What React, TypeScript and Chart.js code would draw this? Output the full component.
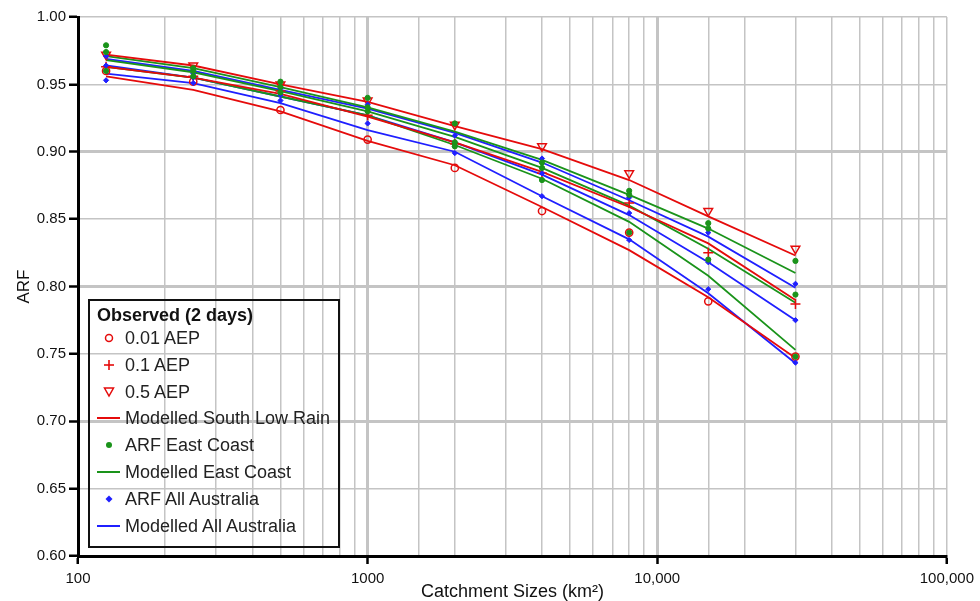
import React, { useEffect, useRef } from "react";
import { Chart, registerables } from "chart.js";

Chart.register(...registerables);

const areas = [125, 250, 500, 1000, 2000, 4000, 8000, 15000, 30000];

// Modelled South Low Rain (0.5, 0.1, 0.01 AEP)
const slrModelled05 = [0.972, 0.964, 0.95, 0.937, 0.919, 0.902, 0.879, 0.852, 0.823];
const slrModelled01 = [0.963, 0.955, 0.943, 0.926, 0.907, 0.885, 0.859, 0.832, 0.79];
const slrModelled001 = [0.956, 0.946, 0.93, 0.908, 0.89, 0.859, 0.827, 0.792, 0.747];

// Modelled East Coast
const ecModelledA = [0.971, 0.962, 0.948, 0.933, 0.915, 0.894, 0.868, 0.843, 0.81];
const ecModelledB = [0.968, 0.959, 0.945, 0.93, 0.911, 0.888, 0.86, 0.828, 0.788];
const ecModelledC = [0.963, 0.955, 0.941, 0.927, 0.905, 0.88, 0.848, 0.808, 0.753];

// Modelled All Australia
const aaModelledA = [0.969, 0.96, 0.946, 0.932, 0.914, 0.892, 0.864, 0.837, 0.799];
const aaModelledB = [0.964, 0.955, 0.941, 0.927, 0.907, 0.883, 0.853, 0.818, 0.775];
const aaModelledC = [0.958, 0.951, 0.936, 0.916, 0.9, 0.867, 0.835, 0.795, 0.743];

// Observed (2 days)
const obs001 = [0.96, 0.952, 0.931, 0.909, 0.888, 0.856, 0.84, 0.789, 0.748];
const obs01 = [0.963, 0.956, 0.945, 0.927, 0.906, 0.884, 0.862, 0.825, 0.787];
const obs05 = [0.972, 0.964, 0.95, 0.938, 0.92, 0.904, 0.884, 0.856, 0.828];

// ARF East Coast
const ecArfA = [0.979, 0.962, 0.952, 0.94, 0.921, 0.892, 0.871, 0.847, 0.819];
const ecArfB = [0.974, 0.96, 0.948, 0.933, 0.907, 0.888, 0.868, 0.843, 0.794];
const ecArfC = [0.96, 0.956, 0.944, 0.93, 0.904, 0.879, 0.84, 0.82, 0.748];

// ARF All Australia
const aaArfA = [0.971, 0.958, 0.947, 0.935, 0.912, 0.895, 0.866, 0.84, 0.802];
const aaArfB = [0.964, 0.955, 0.942, 0.93, 0.904, 0.884, 0.8545, 0.818, 0.775];
const aaArfC = [0.953, 0.951, 0.938, 0.921, 0.899, 0.867, 0.8345, 0.798, 0.7435];

const xTickLabels: Record<number, string> = { 100: "100", 1000: "1000", 10000: "10,000", 100000: "100,000" };

const RED = "#e50b0b";
const GREEN = "#1a931a";
const BLUE = "#1f1fff";
const FONT = '"Liberation Sans", Arial, sans-serif';

const pts = (ys: number[]) => areas.map((x, i) => ({ x, y: ys[i] }));

function lineDs(label: string, ys: number[], color: string) {
  return {
    label,
    data: pts(ys),
    borderColor: color,
    backgroundColor: color,
    borderWidth: 1.8,
    pointRadius: 0,
    showLine: true,
    fill: false,
    order: 2,
  };
}

function pointDs(label: string, ys: number[], color: string, style: string, radius: number, filled: boolean, rotation = 0) {
  return {
    label,
    data: pts(ys),
    borderColor: color,
    backgroundColor: filled ? color : "rgba(0,0,0,0)",
    pointStyle: style,
    pointRadius: radius,
    pointBorderWidth: filled ? 1 : 1.5,
    pointRotation: rotation,
    showLine: false,
    order: 1,
  };
}

function Marker({ kind }: { kind: string }) {
  const w = 26, h = 14;
  let el: React.ReactNode = null;
  if (kind === "circle") el = <circle cx={13} cy={7} r={3.5} fill="none" stroke={RED} strokeWidth={1.5} />;
  if (kind === "plus")
    el = (
      <g stroke={RED} strokeWidth={1.6}>
        <line x1={8} y1={7} x2={18} y2={7} />
        <line x1={13} y1={2} x2={13} y2={12} />
      </g>
    );
  if (kind === "tri") el = <polygon points="8.5,3 17.5,3 13,11" fill="none" stroke={RED} strokeWidth={1.5} />;
  if (kind === "redline") el = <line x1={1} y1={7} x2={24} y2={7} stroke={RED} strokeWidth={2} />;
  if (kind === "gdot") el = <circle cx={13} cy={7} r={3} fill={GREEN} />;
  if (kind === "gline") el = <line x1={1} y1={7} x2={24} y2={7} stroke={GREEN} strokeWidth={2} />;
  if (kind === "bdia") el = <polygon points="13,3.5 16.5,7 13,10.5 9.5,7" fill={BLUE} />;
  if (kind === "bline") el = <line x1={1} y1={7} x2={24} y2={7} stroke={BLUE} strokeWidth={2} />;
  return (
    <svg width={w} height={h} style={{ display: "block" }}>
      {el}
    </svg>
  );
}

const legendItems = [
  { kind: "circle", text: "0.01 AEP" },
  { kind: "plus", text: "0.1 AEP" },
  { kind: "tri", text: "0.5 AEP" },
  { kind: "redline", text: "Modelled South Low Rain" },
  { kind: "gdot", text: "ARF East Coast" },
  { kind: "gline", text: "Modelled East Coast" },
  { kind: "bdia", text: "ARF All Australia" },
  { kind: "bline", text: "Modelled All Australia" },
];

export default function App() {
  const ref = useRef<HTMLCanvasElement>(null);

  useEffect(() => {
    if (!ref.current) return;
    const gridColor = "#c4c4c4";
    const chart = new Chart(ref.current, {
      type: "scatter",
      data: {
        datasets: [
          lineDs("Modelled South Low Rain 0.5", slrModelled05, RED),
          lineDs("Modelled South Low Rain 0.1", slrModelled01, RED),
          lineDs("Modelled South Low Rain 0.01", slrModelled001, RED),
          lineDs("Modelled East Coast A", ecModelledA, GREEN),
          lineDs("Modelled East Coast B", ecModelledB, GREEN),
          lineDs("Modelled East Coast C", ecModelledC, GREEN),
          lineDs("Modelled All Australia A", aaModelledA, BLUE),
          lineDs("Modelled All Australia B", aaModelledB, BLUE),
          lineDs("Modelled All Australia C", aaModelledC, BLUE),
          pointDs("ARF East Coast A", ecArfA, GREEN, "circle", 2.6, true),
          pointDs("ARF East Coast B", ecArfB, GREEN, "circle", 2.6, true),
          pointDs("ARF East Coast C", ecArfC, GREEN, "circle", 2.6, true),
          pointDs("ARF All Australia A", aaArfA, BLUE, "rectRot", 2.6, true),
          pointDs("ARF All Australia B", aaArfB, BLUE, "rectRot", 2.6, true),
          pointDs("ARF All Australia C", aaArfC, BLUE, "rectRot", 2.6, true),
          pointDs("0.01 AEP", obs001, RED, "circle", 3.6, false),
          pointDs("0.1 AEP", obs01, RED, "cross", 5, false),
          pointDs("0.5 AEP", obs05, RED, "triangle", 5, false, 180),
        ] as any,
      },
      options: {
        animation: false,
        responsive: false,
        maintainAspectRatio: false,
        layout: { padding: { top: 17, right: 33, left: 0, bottom: 0 } },
        plugins: { legend: { display: false }, tooltip: { enabled: false } },
        scales: {
          x: {
            type: "logarithmic",
            min: 100,
            max: 100000,
            border: { display: true, color: "#000", width: 3 },
            grid: {
              color: gridColor,
              lineWidth: (ctx: any) => {
                const v = ctx.tick?.value;
                return v === 1000 || v === 10000 ? 3 : 1.5;
              },
              drawTicks: true,
              tickLength: 8,
              tickWidth: 2.5,
              tickColor: (ctx: any) => (xTickLabels[ctx.tick?.value] ? "#000" : "rgba(0,0,0,0)"),
            },
            ticks: {
              autoSkip: false,
              maxRotation: 0,
              minRotation: 0,
              padding: 6,
              color: "#111",
              font: { family: FONT, size: 15 },
              callback: (v: any) => xTickLabels[Number(v)] ?? "",
            },
            title: {
              display: true,
              text: "Catchment Sizes (km²)",
              color: "#111",
              font: { family: FONT, size: 18 },
              padding: { top: 0, bottom: -2 },
            },
            afterFit: (s: any) => {
              s.height = 45;
            },
          },
          y: {
            type: "linear",
            min: 0.6,
            max: 1.0,
            border: { display: true, color: "#000", width: 3 },
            grid: {
              color: gridColor,
              lineWidth: (ctx: any) => {
                const v = ctx.tick?.value;
                if (v === undefined) return 1.5;
                const r = Math.round(v * 100);
                return r === 70 || r === 80 || r === 90 ? 3 : 1.5;
              },
              drawTicks: true,
              tickLength: 9,
              tickWidth: 2.5,
              tickColor: "#000",
            },
            ticks: {
              stepSize: 0.05,
              padding: 3,
              color: "#111",
              font: { family: FONT, size: 15 },
              callback: (v: any) => Number(v).toFixed(2),
            },
            title: {
              display: true,
              text: "ARF",
              color: "#111",
              font: { family: FONT, size: 17 },
              padding: { top: 14, bottom: 0 },
            },
            afterFit: (s: any) => {
              s.width = 78;
            },
          },
        },
      },
    });
    return () => chart.destroy();
  }, []);

  const rowTop0 = 337.7;
  const rowStep = 26.9;

  return (
    <div style={{ position: "absolute", left: 0, top: 0, width: 980, height: 601, fontFamily: FONT }}>
      <canvas ref={ref} width={980} height={601} style={{ position: "absolute", left: 0, top: 0, width: 980, height: 601 }} />
      <div
        style={{
          position: "absolute",
          left: 88,
          top: 299,
          width: 252,
          height: 249,
          border: "2px solid #111",
          boxSizing: "border-box",
        }}
      />
      <div
        style={{
          position: "absolute",
          left: 97,
          top: 315 - 12,
          height: 24,
          lineHeight: "24px",
          fontSize: 18,
          fontWeight: "bold",
          color: "#111",
          whiteSpace: "nowrap",
        }}
      >
        Observed (2 days)
      </div>
      {legendItems.map((it, i) => (
        <div
          key={it.text}
          style={{
            position: "absolute",
            left: 96,
            top: rowTop0 + rowStep * i - 12,
            height: 24,
            display: "flex",
            alignItems: "center",
            whiteSpace: "nowrap",
          }}
        >
          <div style={{ width: 29 }}>
            <Marker kind={it.kind} />
          </div>
          <span style={{ fontSize: 18, lineHeight: "24px", color: "#222" }}>{it.text}</span>
        </div>
      ))}
    </div>
  );
}
